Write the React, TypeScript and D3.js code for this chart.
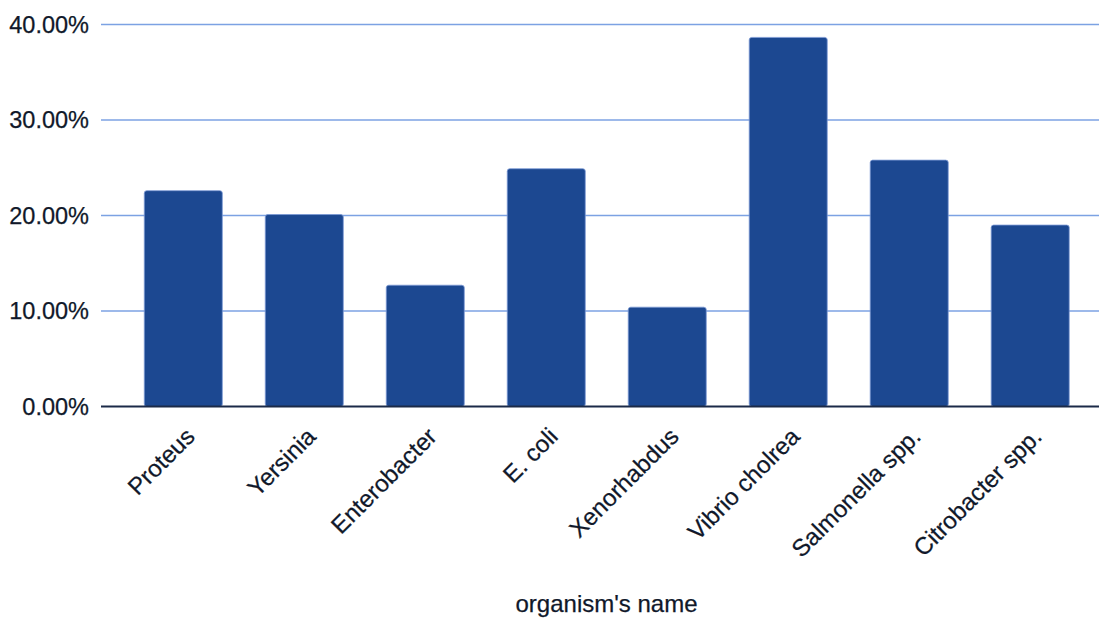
import React from "react";
import * as d3 from "d3";

const categories: string[] = [
  "Proteus",
  "Yersinia",
  "Enterobacter",
  "E. coli",
  "Xenorhabdus",
  "Vibrio cholrea",
  "Salmonella spp.",
  "Citrobacter spp.",
];
const values: number[] = [0.226, 0.201, 0.127, 0.249, 0.104, 0.3865, 0.258, 0.19];
const yTicks: number[] = [0, 0.1, 0.2, 0.3, 0.4];
const xTitle = "organism's name";

const W = 1099;
const H = 618;
const FONT = "'Liberation Sans', Arial, sans-serif";

export default function App() {
  const x = d3
    .scaleBand<string>()
    .domain(categories)
    .range([122.5, 1091])
    .paddingInner(0.355)
    .paddingOuter(0.18);
  const y = d3.scaleLinear().domain([0, 0.4]).range([406.5, 24.5]);
  const fmt = d3.format(".2%");
  const gridX0 = 101;
  const gridX1 = W;

  return (
    <svg
      width={W}
      height={H}
      style={{ position: "absolute", left: 0, top: 0, background: "#fff" }}
      fontFamily={FONT}
    >
      {yTicks.map((t) => (
        <g key={t}>
          {t !== 0 && (
            <line
              x1={gridX0}
              x2={gridX1}
              y1={y(t)}
              y2={y(t)}
              stroke="#7ca2e3"
              strokeWidth={1.6}
            />
          )}
          <text
            x={89}
            y={y(t)}
            dy="0.36em"
            textAnchor="end"
            fontSize={23.5}
            fill="#10182a"
            stroke="#10182a"
            strokeWidth={0.25}
          >
            {fmt(t)}
          </text>
        </g>
      ))}
      {categories.map((c, i) => {
        const bx = x(c)!;
        const bw = x.bandwidth();
        const top = y(values[i]);
        return (
          <rect
            key={c}
            x={bx}
            y={top}
            width={bw}
            height={y(0) - top}
            rx={2.5}
            fill="#1c4891"
            stroke="#7d9ad6"
            strokeWidth={0.8}
          />
        );
      })}
      <line
        x1={gridX0}
        x2={gridX1}
        y1={y(0)}
        y2={y(0)}
        stroke="#1b2a48"
        strokeWidth={2}
      />
      {categories.map((c) => {
        const cx = x(c)! + x.bandwidth() / 2 + 13;
        const cy = 438;
        return (
          <text
            key={c}
            transform={`translate(${cx},${cy}) rotate(-45)`}
            textAnchor="end"
            fontSize={24}
            fill="#10182a"
            stroke="#10182a"
            strokeWidth={0.25}
          >
            {c}
          </text>
        );
      })}
      <text
        x={606.5}
        y={612}
        textAnchor="middle"
        fontSize={24}
        fill="#10182a"
        stroke="#10182a"
        strokeWidth={0.25}
      >
        {xTitle}
      </text>
    </svg>
  );
}
